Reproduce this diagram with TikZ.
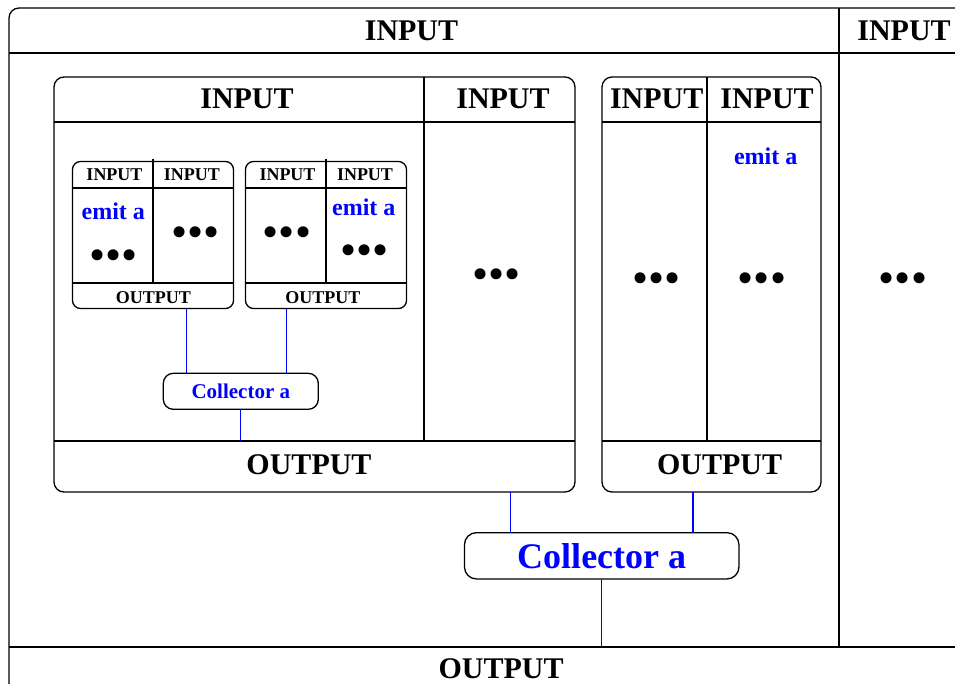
\documentclass[tikz,border=0pt]{standalone}
\usepackage{fontspec}
\setmainfont{Liberation Serif}
\begin{document}
\begin{tikzpicture}[x=1pt,y=-1pt,
  frame/.style={draw, line width=1.3pt, rounded corners=10pt, inner sep=0pt, outer sep=0pt, anchor=north west},
  div/.style={line width=1.3pt},
  conn/.style={draw=blue, line width=1.2pt},
  bigtxt/.style={font=\fontsize{30}{30}\selectfont\bfseries, inner sep=0pt},
  smalltxt/.style={font=\fontsize{18}{18}\selectfont\bfseries, inner sep=0pt},
  emittxt/.style={text=blue, font=\fontsize{24}{24}\selectfont\bfseries, inner sep=0pt},
  dotstxt/.style={font=\fontsize{46}{46}\selectfont, inner sep=0pt, yshift=-5pt},
  collS/.style={draw, line width=1.3pt, rounded corners=10pt, inner sep=0pt, outer sep=0pt, text=blue, font=\fontsize{21}{21}\selectfont\bfseries},
  collB/.style={draw, line width=1.3pt, rounded corners=12pt, inner sep=0pt, outer sep=0pt, text=blue, font=\fontsize{36}{36}\selectfont\bfseries}
]
\useasboundingbox (0,0) rectangle (955,683);
\clip (0,0) rectangle (955,683);

% outer box
\node[frame, minimum width=965pt, minimum height=690pt] (outer) at (9,8) {};
\draw[div] (9,53) -- (974,53);
\draw[div] (839,8) -- (839,647);
\draw[div] (9,647) -- (974,647);
\node[bigtxt] (tin1) at (411.5,30.5) {INPUT};
\node[bigtxt] (tin2) at (904,30.5) {INPUT};
\node[bigtxt] (tout) at (501,668.5) {OUTPUT};
\node[dotstxt] (d7) at (903,278.3) {•••};

% box 1
\node[frame, minimum width=521pt, minimum height=415pt] (b1) at (54,77) {};
\draw[div] (54,122) -- (575,122);
\draw[div] (424,77) -- (424,441);
\draw[div] (54,441) -- (575,441);
\node[bigtxt] (b1in1) at (247,99) {INPUT};
\node[bigtxt] (b1in2) at (503,99) {INPUT};
\node[bigtxt] (b1out) at (309,464.5) {OUTPUT};
\node[dotstxt] (d4) at (496.3,273.7) {•••};

% box 2
\node[frame, minimum width=219pt, minimum height=415pt] (b2) at (602,77) {};
\draw[div] (602,122) -- (821,122);
\draw[div] (707,77) -- (707,441);
\draw[div] (602,441) -- (821,441);
\node[bigtxt] (b2in1) at (656.7,99) {INPUT};
\node[bigtxt] (b2in2) at (767,99) {INPUT};
\node[bigtxt] (b2out) at (719.5,464.5) {OUTPUT};
\node[emittxt] (e3) at (765.7,155.8) {emit a};
\node[dotstxt] (d5) at (656.3,277.7) {•••};
\node[dotstxt] (d6) at (762,277.7) {•••};

% sub box A
\node[frame, rounded corners=8pt, minimum width=161pt, minimum height=147pt] (sa) at (72.5,161.5) {};
\draw[div] (72.5,188) -- (233.5,188);
\draw[div] (153,159) -- (153,283);
\draw[div] (72.5,283) -- (233.5,283);
\node[smalltxt] (sain1) at (114.5,174.5) {INPUT};
\node[smalltxt] (sain2) at (191.8,174.5) {INPUT};
\node[smalltxt] (saout) at (153.3,297.8) {OUTPUT};
\node[emittxt] (e1) at (113.3,210.8) {emit a};
\node[dotstxt] (d1) at (113.7,254.7) {•••};
\node[dotstxt] (d2) at (195.7,232) {•••};

% sub box B
\node[frame, rounded corners=8pt, minimum width=161pt, minimum height=147pt] (sb) at (245.5,161.5) {};
\draw[div] (245.5,188) -- (406.5,188);
\draw[div] (326,159) -- (326,283);
\draw[div] (245.5,283) -- (406.5,283);
\node[smalltxt] (sbin1) at (287.5,174.5) {INPUT};
\node[smalltxt] (sbin2) at (365,174.5) {INPUT};
\node[smalltxt] (sbout) at (322.8,297.8) {OUTPUT};
\node[emittxt] (e2) at (363.8,207) {emit a};
\node[dotstxt] (d3a) at (287,232) {•••};
\node[dotstxt] (d3b) at (364.5,250.3) {•••};

% collectors
\node[collS, minimum width=155pt, minimum height=36pt] (colS) at (240.8,391.3) {Collector a};
\node[collB, minimum width=274.5pt, minimum height=46.3pt] (colB) at (601.7,555.8) {Collector a};

\coordinate (xa) at (186.7,0);
\coordinate (xb) at (286.7,0);
\coordinate (xc) at (510.3,0);
\coordinate (xd) at (693,0);
\coordinate (y1) at (0,441);
\coordinate (y2) at (0,647);

\draw[conn] (sa.south -| xa) -- (colS.north -| xa);
\draw[conn] (sb.south -| xb) -- (colS.north -| xb);
\draw[conn] (colS.south) -- (colS.south |- y1);
\draw[conn] (b1.south -| xc) -- (colB.north -| xc);
\draw[conn] (b2.south -| xd) -- (colB.north -| xd);
\draw[conn] (colB.south) -- (colB.south |- y2);
\end{tikzpicture}
\end{document}
